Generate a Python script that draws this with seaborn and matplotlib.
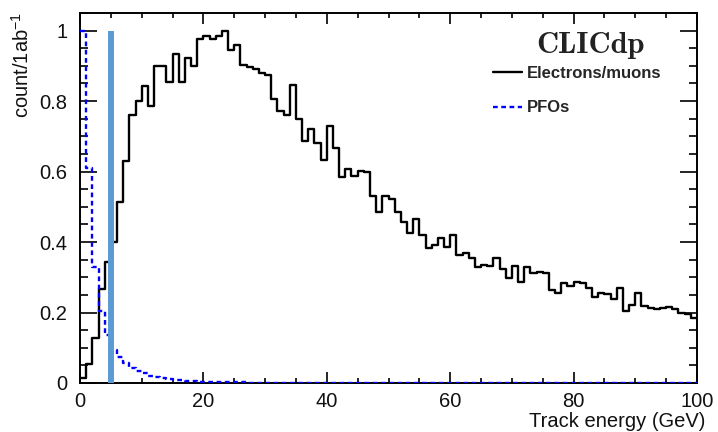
import numpy as np
import pandas as pd
import matplotlib
matplotlib.use("Agg")
import matplotlib.pyplot as plt
import seaborn as sns
from matplotlib.ticker import MultipleLocator

# ---- data (bin width 1 GeV, 0..100 GeV) ----
bin_edges = list(range(0, 101))

electrons_muons = [
    0.015, 0.054, 0.128, 0.268, 0.344, 0.400, 0.513, 0.630, 0.760, 0.800,
    0.843, 0.786, 0.900, 0.900, 0.853, 0.935, 0.853, 0.923, 0.900, 0.975,
    0.985, 0.975, 0.985, 1.000, 0.945, 0.960, 0.902, 0.896, 0.890, 0.881,
    0.874, 0.805, 0.771, 0.760, 0.845, 0.750, 0.686, 0.722, 0.681, 0.634,
    0.728, 0.667, 0.584, 0.608, 0.587, 0.603, 0.598, 0.530, 0.486, 0.532,
    0.521, 0.484, 0.458, 0.427, 0.465, 0.420, 0.382, 0.391, 0.411, 0.387,
    0.420, 0.363, 0.369, 0.356, 0.328, 0.334, 0.332, 0.354, 0.323, 0.299,
    0.332, 0.287, 0.330, 0.313, 0.315, 0.311, 0.263, 0.254, 0.285, 0.274,
    0.287, 0.283, 0.269, 0.245, 0.256, 0.252, 0.238, 0.269, 0.204, 0.220,
    0.254, 0.218, 0.214, 0.209, 0.214, 0.217, 0.209, 0.200, 0.195, 0.185,
]

pfos = [
    1.000, 0.610, 0.330, 0.205, 0.136, 0.095, 0.073, 0.056, 0.043, 0.034,
    0.027, 0.021, 0.017, 0.014, 0.011, 0.009, 0.0075, 0.006, 0.005, 0.004,
    0.0035, 0.003, 0.0025, 0.002, 0.002, 0.0015, 0.0015, 0.001, 0.001, 0.001,
    0.0008, 0.0005, 0.0005, 0.0004, 0.0003, 0.0003, 0.0002, 0.0002, 0.0001, 0.0001,
    0.0, 0.0, 0.0, 0.0, 0.0, 0.0, 0.0, 0.0, 0.0, 0.0,
    0.0, 0.0, 0.0, 0.0, 0.0, 0.0, 0.0, 0.0, 0.0, 0.0,
    0.0, 0.0, 0.0, 0.0, 0.0, 0.0, 0.0, 0.0, 0.0, 0.0,
    0.0, 0.0, 0.0, 0.0, 0.0, 0.0, 0.0, 0.0, 0.0, 0.0,
    0.0, 0.0, 0.0, 0.0, 0.0, 0.0, 0.0, 0.0, 0.0, 0.0,
    0.0, 0.0, 0.0, 0.0, 0.0, 0.0, 0.0, 0.0, 0.0, 0.0,
]

cut_energy = 5.0
cut_height = 1.0

series_labels = ["Electrons/muons", "PFOs"]
x_ticks = [0, 20, 40, 60, 80, 100]
y_ticks = [0, 0.2, 0.4, 0.6, 0.8, 1]
y_tick_labels = ["0", "0.2", "0.4", "0.6", "0.8", "1"]

# ---- style ----
sns.set_theme(style="white")
plt.rcParams["font.family"] = ["Liberation Sans", "DejaVu Sans"]
plt.rcParams["mathtext.default"] = "regular"
plt.rcParams["axes.linewidth"] = 1.4

fig = plt.figure(figsize=(7.18, 4.32), dpi=100)
ax = fig.add_axes([80 / 718, 1 - 383 / 432, 617 / 718, 370 / 432])

def step_frame(vals, label):
    return pd.DataFrame({
        "energy": bin_edges,
        "value": list(vals) + [vals[-1]],
        "series": label,
    })

df_e = step_frame(electrons_muons, series_labels[0])
df_p = step_frame(pfos, series_labels[1])

sns.lineplot(data=df_e, x="energy", y="value", ax=ax, color="black",
             lw=1.7, drawstyle="steps-post", estimator=None,
             label=series_labels[0], zorder=3)
sns.lineplot(data=df_p, x="energy", y="value", ax=ax, color="#0000ff",
             lw=1.7, linestyle=(0, (2, 1.5)), drawstyle="steps-post",
             estimator=None, label=series_labels[1], zorder=3)

ax.vlines(cut_energy, 0, cut_height, color="#5b9bd5", lw=4.3, zorder=5)

ax.set_xlim(0, 100)
ax.set_ylim(0, 1.05)
ax.set_xticks(x_ticks)
ax.set_xticklabels([str(v) for v in x_ticks])
ax.set_yticks(y_ticks)
ax.set_yticklabels(y_tick_labels)
ax.xaxis.set_minor_locator(MultipleLocator(5))
ax.yaxis.set_minor_locator(MultipleLocator(0.05))

for sp in ax.spines.values():
    sp.set_color("black")
    sp.set_linewidth(1.4)

ax.tick_params(which="both", direction="in", top=True, right=True,
               bottom=True, left=True, color="black", width=1.2,
               labelsize=14.5, labelcolor="#111111")
ax.tick_params(axis="x", which="major", length=8, pad=6.5)
ax.tick_params(axis="x", which="minor", length=3.8)
ax.tick_params(axis="y", which="major", length=12.5, pad=9)
ax.tick_params(axis="y", which="minor", length=6)

ax.set_xlabel("Track energy (GeV)", fontsize=14.5, loc="right", color="#111111")
ax.xaxis.set_label_coords(1.013, -0.079)
ax.set_ylabel("count/1ab$^{-1}$", fontsize=14.5, loc="top", color="#111111")
ax.yaxis.set_label_coords(-0.076, 1.003)

leg = ax.legend(loc="upper left", bbox_to_anchor=(0.669, 0.856),
                frameon=False, borderpad=0, borderaxespad=0,
                handlelength=1.75, handletextpad=0.3, labelspacing=1.15,
                prop={"family": "Liberation Sans", "weight": "bold", "size": 12})

ax.text(0.8266, 0.912, "CLICdp", transform=ax.transAxes, ha="center",
        va="center", fontsize=22, family=["cmb10", "DejaVu Serif"], color="#222222")

fig.savefig("out.png", dpi=100)
